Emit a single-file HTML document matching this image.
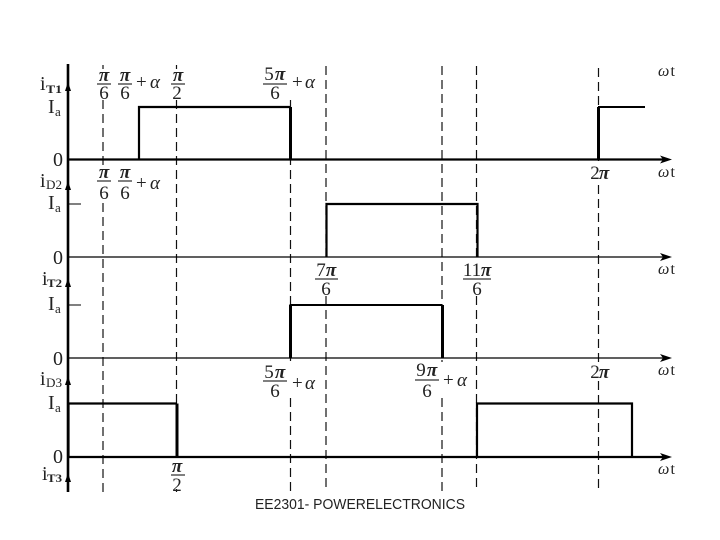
<!DOCTYPE html>
<html>
<head>
<meta charset="utf-8">
<style>
html,body{margin:0;padding:0;background:#fff}
svg{display:block}
text{font-family:"Liberation Serif",serif;fill:#222}
.l{font-size:20px}
.s{font-size:13px}
.sb{font-size:12px;font-weight:bold}
.f{font-size:19px;text-anchor:middle}
.p{font-size:19px;font-weight:bold;font-style:italic;text-anchor:middle}
.a{font-size:19px}
.w{font-size:15px}
.d{stroke:#111;stroke-width:1.2;stroke-dasharray:9 5;fill:none}
.b{stroke:#000;fill:none}
</style>
</head>
<body>
<svg width="720" height="540" viewBox="0 0 720 540" xmlns="http://www.w3.org/2000/svg">
<rect width="720" height="540" fill="#fff"/>

<!-- dashed guides -->
<path class="d" d="M103 65V69M103 100V170M103 203V492"/>
<path class="d" d="M176.500 65V69M176.500 100V458M176.500 489V492"/>
<path class="d" d="M290.500 100V362M290.500 398V492"/>
<path class="d" d="M326 66V262M326 296V492"/>
<path class="d" d="M442 66V362M442 398V492"/>
<path class="d" d="M476.500 66V262M476.500 296V492"/>
<path class="d" d="M598.500 68V165M598.500 185V362M598.500 381V492"/>

<!-- vertical axis -->
<path class="b" stroke-width="2.600" d="M68 64V492"/>
<path fill="#000" d="M68 82l-3 9h6zM68 181l-3 9h6zM68 278l-3 9h6zM68 376l-3 9h6zM68 473l-3 9h6z"/>
<path class="b" stroke-width="1" d="M68 204H81M68 305H81"/>

<!-- horizontal axes -->
<path class="b" stroke-width="2.200" d="M68 159.500H664"/>
<path class="b" stroke-width="1.300" d="M68 257H664"/>
<path class="b" stroke-width="1.300" d="M68 358H664"/>
<path class="b" stroke-width="2.200" d="M68 457H664"/>
<path fill="#000" d="M672 159.500l-12-4 3 4-3 4zM672 257l-12-4 3 4-3 4zM672 358l-12-4 3 4-3 4zM672 457l-12-4 3 4-3 4z"/>

<!-- waveforms -->
<path class="b" stroke-width="2.200" d="M139 159V107H290"/>
<path class="b" stroke-width="3" d="M290.500 107V159"/>
<path class="b" stroke-width="3" d="M598.500 159V107"/>
<path class="b" stroke-width="2" d="M598 107H645"/>
<path class="b" stroke-width="2.200" d="M326.500 257V204H477.500V257"/>
<path class="b" stroke-width="2" d="M290.500 358V305H442"/>
<path class="b" stroke-width="3" d="M290.500 358V305M442.500 305V358"/>
<path class="b" stroke-width="2.200" d="M68.500 457V403.500H177"/>
<path class="b" stroke-width="3" d="M177 403.500V457"/>
<path class="b" stroke-width="2.200" d="M477 457V403.500H632V457"/>

<!-- y labels -->
<text class="l" x="40" y="90">i</text><text class="sb" x="46" y="93" textLength="16" lengthAdjust="spacingAndGlyphs">T1</text>
<text class="l" x="40" y="187">i</text><text class="s" x="46" y="189" textLength="16" lengthAdjust="spacingAndGlyphs">D2</text>
<text class="l" x="42" y="285">i</text><text class="sb" x="47" y="287" textLength="15" lengthAdjust="spacingAndGlyphs">T2</text>
<text class="l" x="40" y="385">i</text><text class="s" x="46" y="387" textLength="16" lengthAdjust="spacingAndGlyphs">D3</text>
<text class="l" x="42" y="480">i</text><text class="sb" x="47" y="482" textLength="15" lengthAdjust="spacingAndGlyphs">T3</text>

<text class="l" x="48" y="113">I</text><text class="s" x="55" y="116">a</text>
<text class="l" x="48" y="209">I</text><text class="s" x="55" y="212">a</text>
<text class="l" x="48" y="310">I</text><text class="s" x="55" y="313">a</text>
<text class="l" x="48" y="409">I</text><text class="s" x="55" y="412">a</text>

<text class="l" x="53" y="166">0</text>
<text class="l" x="53" y="264">0</text>
<text class="l" x="53" y="365">0</text>
<text class="l" x="53" y="463">0</text>

<!-- ωt -->
<text class="a" x="658" y="76" style="font-size:16px" textLength="17"><tspan font-style="italic">ω</tspan>t</text>
<text class="a" x="658" y="177" style="font-size:16px" textLength="17"><tspan font-style="italic">ω</tspan>t</text>
<text class="a" x="658" y="274" style="font-size:16px" textLength="17"><tspan font-style="italic">ω</tspan>t</text>
<text class="a" x="658" y="375" style="font-size:16px" textLength="17"><tspan font-style="italic">ω</tspan>t</text>
<text class="a" x="658" y="474" style="font-size:16px" textLength="17"><tspan font-style="italic">ω</tspan>t</text>

<!-- top row fractions -->
<text class="p" x="104" y="81">π</text><path class="b" d="M97 84H111"/><text class="f" x="104" y="99">6</text>
<text class="p" x="125" y="81">π</text><path class="b" d="M118 84H132"/><text class="f" x="125" y="99">6</text>
<text class="a" x="136" y="88">+</text><text class="a" x="150" y="88" font-style="italic">α</text>
<text class="p" x="178" y="81">π</text><path class="b" d="M171 84H185"/><text class="f" x="177" y="99">2</text>
<text class="f" x="269" y="80">5</text><text class="p" x="280" y="80">π</text><path class="b" d="M263 84H287"/><text class="f" x="275" y="99">6</text>
<text class="a" x="292" y="88">+</text><text class="a" x="305" y="88" font-style="italic">α</text>

<!-- second row -->
<text class="p" x="104" y="178">π</text><path class="b" d="M97 181H111"/><text class="f" x="104" y="199">6</text>
<text class="p" x="125" y="178">π</text><path class="b" d="M118 181H132"/><text class="f" x="125" y="199">6</text>
<text class="a" x="136" y="189">+</text><text class="a" x="150" y="189" font-style="italic">α</text>
<text class="f" x="595" y="179">2</text><text class="p" x="604" y="179">π</text>

<!-- 7π/6, 11π/6 -->
<text class="f" x="321" y="276">7</text><text class="p" x="331" y="276">π</text><path class="b" d="M315 279H338"/><text class="f" x="326" y="295">6</text>
<text class="f" x="472" y="276">11</text><text class="p" x="486" y="276">π</text><path class="b" d="M463 279H491"/><text class="f" x="477" y="295">6</text>

<!-- third row -->
<text class="f" x="269" y="378">5</text><text class="p" x="280" y="378">π</text><path class="b" d="M263 381H287"/><text class="f" x="275" y="397">6</text>
<text class="a" x="292" y="389">+</text><text class="a" x="305" y="389" font-style="italic">α</text>
<text class="f" x="421" y="376">9</text><text class="p" x="432" y="376">π</text><path class="b" d="M415 380H439"/><text class="f" x="427" y="397">6</text>
<text class="a" x="443" y="386">+</text><text class="a" x="457" y="386" font-style="italic">α</text>
<text class="f" x="595" y="378">2</text><text class="p" x="604" y="378">π</text>

<!-- bottom π/2 -->
<text class="p" x="177" y="472">π</text><path class="b" d="M171 475H185"/><text class="f" x="177" y="491">2</text>

<!-- footer -->
<text class="w" x="255" y="509" style="font-family:'Liberation Sans',sans-serif" textLength="210" lengthAdjust="spacingAndGlyphs">EE2301- POWERELECTRONICS</text>
</svg>
</body>
</html>
